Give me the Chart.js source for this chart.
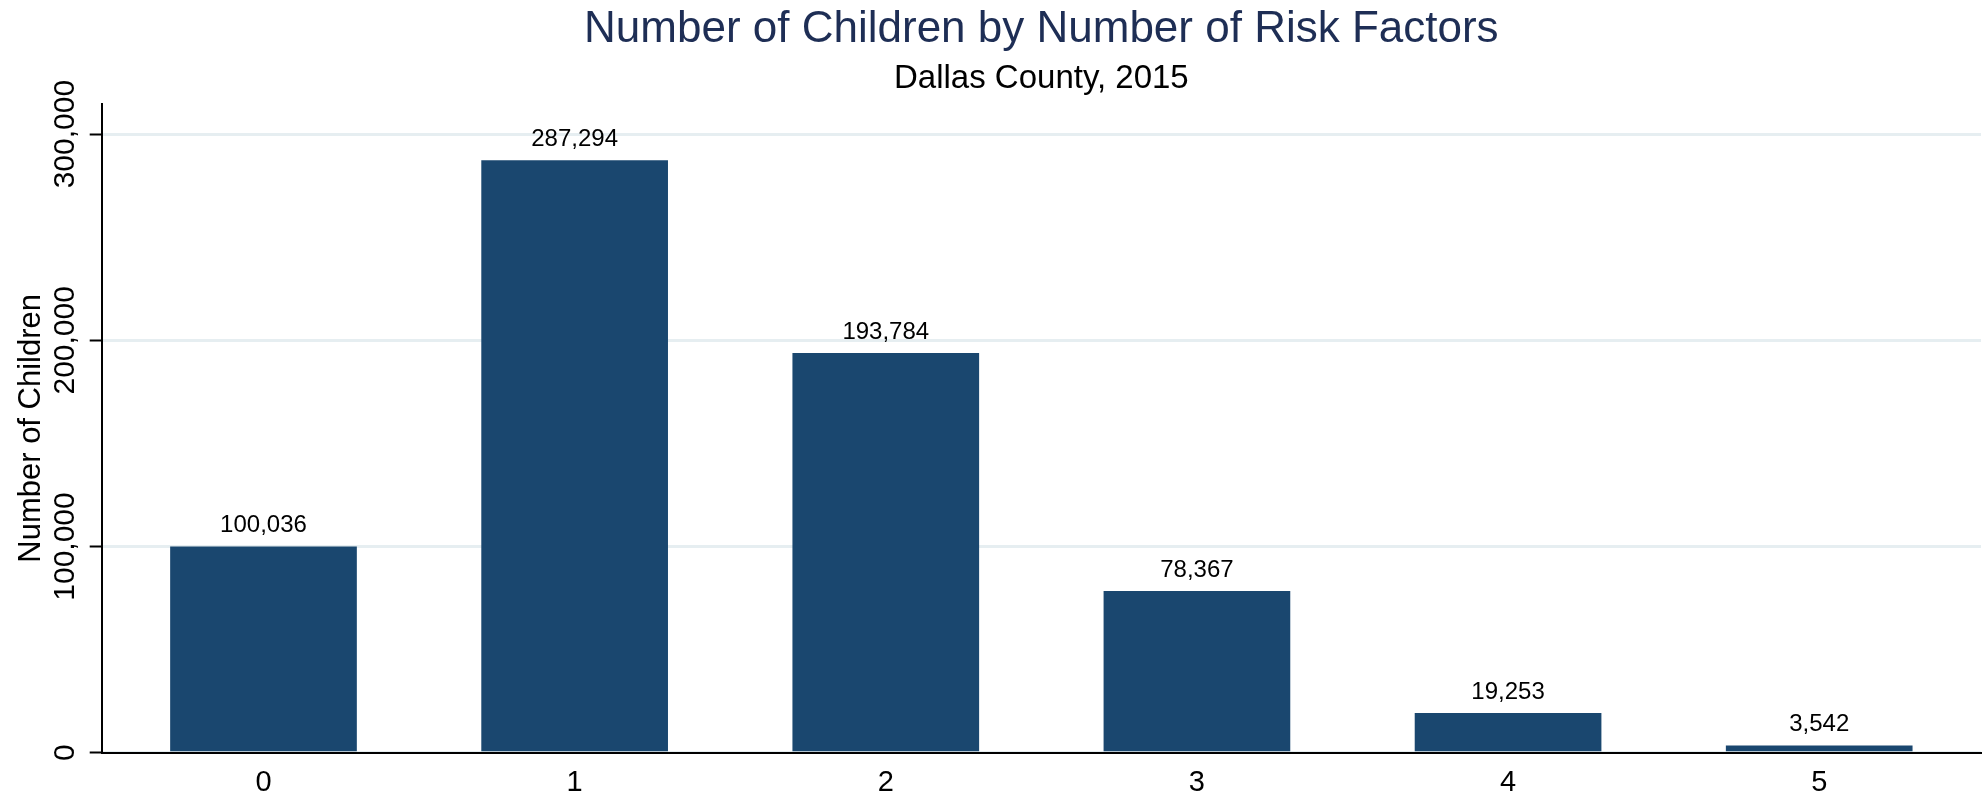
<!DOCTYPE html>
<html>
<head>
<meta charset="utf-8">
<script src="https://cdn.jsdelivr.net/npm/chart.js@4"></script>
<style>
  html, body { margin: 0; padding: 0; background: #ffffff; }
  #wrap { width: 1984px; height: 799px; position: relative; }
</style>
</head>
<body>
<div id="wrap"><canvas id="c"></canvas></div>
<script>
const categories = ["0", "1", "2", "3", "4", "5"];
const childrenCounts = [100036, 287294, 193784, 78367, 19253, 3542];
const yTickValues = [0, 100000, 200000, 300000];
const titleText = "Number of Children by Number of Risk Factors";
const subtitleText = "Dallas County, 2015";
const yAxisTitle = "Number of Children";

const FONT = '"Liberation Sans", Arial, Helvetica, sans-serif';
const Y_TICK_SIZE = 30;

// measure widest y tick label so rotated labels can be centred
const mctx = document.createElement('canvas').getContext('2d');
mctx.font = Y_TICK_SIZE + 'px ' + FONT;
let widest = 0;
yTickValues.forEach(v => { widest = Math.max(widest, mctx.measureText(v.toLocaleString('en-US')).width); });
const Y_AXIS_RIGHT = 101.7;
const Y_TICK_LEN = 12;
const yTickPadding = Y_AXIS_RIGHT - Y_TICK_LEN - widest / 2 - 66;

const valueLabels = {
  id: 'valueLabels',
  afterDatasetsDraw(chart) {
    const ctx = chart.ctx;
    const meta = chart.getDatasetMeta(0);
    ctx.save();
    ctx.font = '24px ' + FONT;
    ctx.fillStyle = '#000000';
    ctx.textAlign = 'center';
    ctx.textBaseline = 'alphabetic';
    meta.data.forEach((bar, i) => {
      ctx.fillText(childrenCounts[i].toLocaleString('en-US'), bar.x, bar.y - 14.5);
    });
    ctx.restore();
  }
};

new Chart(document.getElementById('c'), {
  type: 'bar',
  data: {
    labels: categories,
    datasets: [{
      data: childrenCounts,
      backgroundColor: '#1a476f',
      borderWidth: 0,
      categoryPercentage: 1.0,
      barPercentage: 0.6
    }]
  },
  options: {
    responsive: true,
    maintainAspectRatio: false,
    devicePixelRatio: 1,
    animation: false,
    layout: { padding: { left: 0, right: 3, top: 0, bottom: 0 } },
    plugins: {
      legend: { display: false },
      tooltip: { enabled: false },
      title: {
        display: true,
        fullSize: false,
        text: titleText,
        color: '#1e2e55',
        font: { family: FONT, size: 44, weight: 'normal', lineHeight: 1.2 },
        padding: { top: 3.4, bottom: 0 }
      },
      subtitle: {
        display: true,
        fullSize: false,
        text: subtitleText,
        color: '#000000',
        font: { family: FONT, size: 33, weight: 'normal', lineHeight: 1.2 },
        padding: { top: 2.6, bottom: 5.6 }
      }
    },
    scales: {
      x: {
        type: 'linear',
        offset: false,
        min: -0.52,
        max: 5.52,
        afterBuildTicks: (s) => { s.ticks = categories.map((c, i) => ({ value: i })); },
        afterFit: (s) => { s.height = 46.3; },
        grid: { display: false, drawTicks: false, offset: false },
        border: { display: true, color: '#000000', width: 2 },
        ticks: {
          color: '#000000',
          font: { family: FONT, size: 29 },
          padding: 13.3,
          maxRotation: 0,
          minRotation: 0,
          callback: (v) => categories[v] !== undefined ? categories[v] : ''
        }
      },
      y: {
        type: 'linear',
        min: 0,
        max: 314600,
        afterBuildTicks: (s) => { s.ticks = yTickValues.map(v => ({ value: v })); },
        afterFit: (s) => { s.width = Y_AXIS_RIGHT; },
        grid: {
          display: true,
          color: '#e6eef1',
          lineWidth: 3,
          drawTicks: true,
          tickLength: Y_TICK_LEN,
          tickColor: '#000000',
          tickWidth: 2
        },
        border: { display: true, color: '#000000', width: 2 },
        ticks: {
          color: '#000000',
          font: { family: FONT, size: Y_TICK_SIZE },
          minRotation: 90,
          maxRotation: 90,
          crossAlign: 'center',
          padding: yTickPadding,
          callback: (v) => v.toLocaleString('en-US')
        },
        title: {
          display: true,
          text: yAxisTitle,
          color: '#000000',
          font: { family: FONT, size: 31, lineHeight: 1.2 },
          padding: { top: 12.7, bottom: 0 }
        }
      }
    }
  },
  plugins: [valueLabels]
});
</script>
</body>
</html>
